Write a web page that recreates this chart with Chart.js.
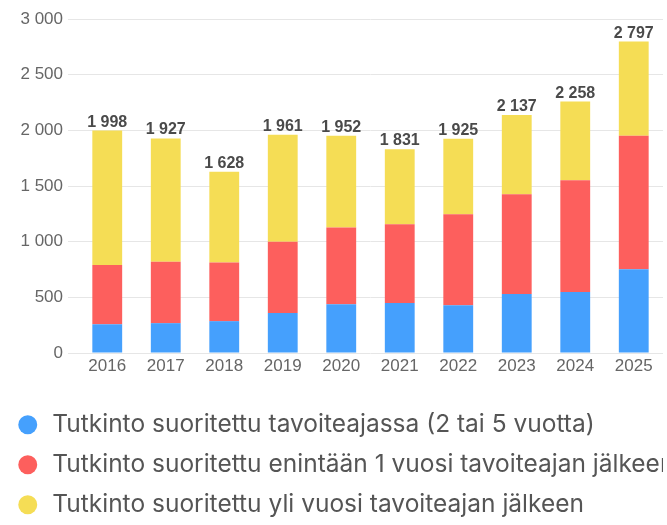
<!DOCTYPE html>
<html>
<head>
<meta charset="utf-8">
<script src="https://cdn.jsdelivr.net/npm/chart.js@4"></script>
<style>
  body { margin: 0; background: #fff; }
  #wrap { width: 667px; height: 525px; }
</style>
</head>
<body>
<div id="wrap"><canvas id="myChart"></canvas></div>
<script>
const years = ['2016', '2017', '2018', '2019', '2020', '2021', '2022', '2023', '2024', '2025'];
const onTime = [258, 268, 286, 359, 437, 449, 428, 530, 548, 753];
const withinYear = [532, 552, 527, 641, 690, 708, 819, 897, 1004, 1198];
const overYear = [1208, 1107, 815, 961, 825, 674, 678, 710, 706, 846];
const seriesNames = [
    'Tutkinto suoritettu tavoiteajassa (2 tai 5 vuotta)',
    'Tutkinto suoritettu enintään 1 vuosi tavoiteajan jälkeen',
    'Tutkinto suoritettu yli vuosi tavoiteajan jälkeen'
];

const fmt = (v) => String(v).replace(/\B(?=(\d{3})+(?!\d))/g, ' ');

// totals above the bars
const totalsPlugin = {
    id: 'totals',
    afterDatasetsDraw(chart) {
        const ctx = chart.ctx;
        const meta = chart.getDatasetMeta(2);
        ctx.save();
        ctx.font = 'bold 16px "Liberation Sans", Arial, sans-serif';
        ctx.fillStyle = '#4a4a4a';
        ctx.textAlign = 'center';
        ctx.textBaseline = 'alphabetic';
        meta.data.forEach((bar, i) => {
            const total = onTime[i] + withinYear[i] + overYear[i];
            ctx.fillText(fmt(total), bar.x, bar.y - 4);
        });
        ctx.restore();
    }
};

const ctx = document.getElementById('myChart').getContext('2d');

const data = {
    labels: years,
    datasets: [
        { label: seriesNames[0], data: onTime, backgroundColor: '#45a0fd' },
        { label: seriesNames[1], data: withinYear, backgroundColor: '#fd5f5d' },
        { label: seriesNames[2], data: overYear, backgroundColor: '#f5dd55' }
    ]
};

const config = {
    type: 'bar',
    data: data,
    plugins: [totalsPlugin],
    options: {
        responsive: true,
        maintainAspectRatio: false,
        animation: false,
        layout: { padding: { top: 19, right: 4, left: 0, bottom: -2 } },
        datasets: {
            bar: { categoryPercentage: 1, barPercentage: 0.51 }
        },
        plugins: {
            legend: {
                position: 'bottom',
                align: 'start',
                labels: {
                    usePointStyle: true,
                    pointStyle: 'circle',
                    boxWidth: 26,
                    boxHeight: 13.4,
                    padding: 15.5,
                    color: '#555',
                    font: { size: 24.5, family: 'Inter, sans-serif' }
                }
            },
            tooltip: { enabled: false }
        },
        scales: {
            x: {
                stacked: true,
                afterFit: (axis) => { axis.height = 44; },
                grid: { display: false, drawTicks: false },
                border: { display: false },
                ticks: {
                    color: '#666',
                    padding: 3,
                    font: { size: 17, family: '"Liberation Sans", Arial, sans-serif' }
                }
            },
            y: {
                stacked: true,
                min: 0,
                max: 3000,
                afterFit: (axis) => { axis.width = 78; },
                border: { display: false },
                grid: { color: '#e6e6e6', tickLength: 10 },
                ticks: {
                    stepSize: 500,
                    color: '#666',
                    padding: 5,
                    font: { size: 17, family: '"Liberation Sans", Arial, sans-serif' },
                    callback: (v) => fmt(v)
                }
            }
        }
    }
};

const myChart = new Chart(ctx, config);
</script>
</body>
</html>
